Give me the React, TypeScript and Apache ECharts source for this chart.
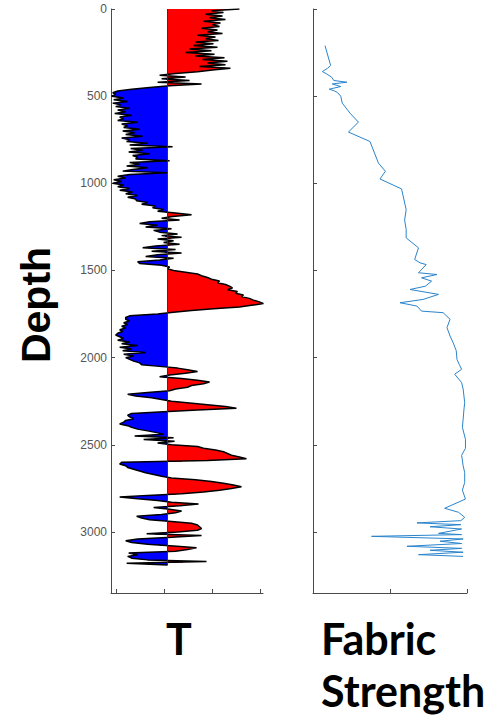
import React, { useEffect, useRef } from "react";
import * as echarts from "echarts";

// Depth categories for the T track (0 .. 3350, step 10)
const DEPTH_CATEGORIES: string[] = Array.from({ length: 336 }, (_, i) => String(i * 10));

// Y tick labels
const DEPTH_TICKS = [0, 500, 1000, 1500, 2000, 2500, 3000];

// T values, one per 10 depth units from depth 0 to 3190 (arbitrary units, 0 = baseline)
const T_VALUES = [
  72, 44, 56, 38, 55, 42, 58, 36, 53, 45,
  52, 34, 50, 40, 55, 30, 48, 38, 51, 28,
  46, 26, 50, 22, 44, 18, 47, 28, 57, 35,
  60, 40, 58, 32, 63, 45, 30, 8, -8, 18,
  -6, 22, -10, 34, 2, -18, -36, -50, -55, -52,
  -56, -44, -54, -40, -55, -47, -52, -38, -50, -42,
  -53, -36, -48, -44, -50, -30, -46, -40, -44, -28,
  -45, -33, -42, -25, -46, -38, -41, -20, -38, 5,
  -37, -25, -39, -18, -35, -30, -32, 2, -38, -28,
  -41, -20, -35, -45, 0, -38, -50, -42, -54, -46,
  -55, -44, -50, -38, -48, -35, -42, -30, -40, -32,
  -31, -20, -26, -12, -15, -4, -10, 8, 24, 5,
  -6, 12, -18, -28, -10, -22, 4, -14, -8, 10,
  -6, 14, -10, 6, -4, 12, -12, -25, 8, -16,
  14, -10, -22, 6, -8, -30, -28, -6, 2, 0,
  6, 18, 30, 34, 40, 44, 52, 50, 58, 62,
  65, 60, 70, 68, 76, 74, 82, 86, 92, 96,
  84, 72, 46, 24, 6, -10, -38, -42, -42, -38,
  -44, -40, -46, -42, -48, -45, -50, -52, -48, -44,
  -50, -38, -46, -30, -48, -36, -45, -22, -44, -34,
  -42, -38, -34, -28, -26, -8, 10, 20, 30, 18,
  2, -8, 14, 30, 42, 36, 24, 20, 8, 2,
  -20, -40, -32, -16, -6, 4, 22, 40, 58, 69,
  30, -4, -36, -40, -38, -34, -42, -44, -48, -40,
  -36, -30, -20, -11, -4, -33, 6, -24, 7, -10,
  4, 30, 36, 48, 56, 60, 64, 72, 79, 40,
  -46, -48, -42, -40, -34, -28, -22, -14, -6, 4,
  28, 44, 56, 66, 74, 64, 52, 36, 14, -20,
  -48, -30, -10, 4, 31, 12, -14, 2, 14, 8,
  -6, -31, -26, -18, 4, 24, 30, 32, 34, 30,
  10, -21, 34, 4, -30, -42, -36, -20, 6, 29,
  20, 8, -39, -30, -40, -36, -20, 39, -41, 0,
];

// Fabric strength trace
const FABRIC_DEPTH = [
  210, 324, 340, 359, 372, 391, 410, 420, 430, 445, 460, 470, 480, 500, 540,
  597, 649, 706, 760, 884, 931, 975, 1032, 1151, 1210, 1265, 1313, 1370, 1437,
  1456, 1466, 1513, 1523, 1542, 1561, 1590, 1609, 1637, 1666, 1685, 1704, 1733,
  1742, 1780, 1828, 1876, 1914, 1960, 2010, 2040, 2067, 2095, 2143, 2180, 2258,
  2300, 2353, 2400, 2468, 2520, 2560, 2620, 2660, 2716, 2760, 2811, 2864, 2887,
  2916, 2935, 2948, 2958, 2970, 2983, 3008, 3015, 3025, 3040, 3053, 3066, 3082,
  3094, 3105, 3116, 3130, 3140,
];
const FABRIC_STRENGTH = [
  0.156, 0.229, 0.19, 0.121, 0.177, 0.242, 0.27, 0.44, 0.25, 0.36, 0.21, 0.28, 0.32, 0.36, 0.38,
  0.48, 0.59, 0.46, 0.74, 0.85, 0.94, 0.87, 1.15, 1.21, 1.19, 1.21, 1.21, 1.37, 1.32,
  1.39, 1.47, 1.37, 1.61, 1.41, 1.54, 1.46, 1.26, 1.63, 1.43, 1.13, 1.35, 1.41,
  1.69, 1.78, 1.74, 1.78, 1.82, 1.86, 1.87, 1.9, 1.93, 1.84, 1.93, 1.95, 1.97,
  1.96, 1.95, 1.94, 1.98, 1.98, 1.93, 1.95, 1.97, 1.97, 1.94, 1.98, 1.71, 1.89,
  1.97, 1.92, 1.35, 1.92, 1.52, 1.93, 1.63, 1.93, 0.76, 1.95, 1.65, 1.93, 1.22,
  1.93, 1.52, 1.95, 1.37, 1.95,
];

// Tick positions for the T axis (no labels)
const T_TICKS = [-51.7, -3.7, 44.3, 92.6];

export default function App() {
  const ref = useRef<HTMLDivElement>(null);

  useEffect(() => {
    if (!ref.current) return;
    const chart = echarts.init(ref.current, null, { renderer: "svg" });

    const tData = T_VALUES.map((v, i) => [v, DEPTH_CATEGORIES[i]]);
    const fData = FABRIC_DEPTH.map((d, i) => [FABRIC_STRENGTH[i], d]);
    const axisColor = "#4a4a4a";

    const option: any = {
      animation: false,
      backgroundColor: "#ffffff",
      grid: [
        { left: 111, top: 9, width: 152, height: 584 },
        { left: 313, top: 9, width: 154, height: 584 },
      ],
      xAxis: [
        {
          type: "value",
          gridIndex: 0,
          min: -56.7,
          max: 95.6,
          position: "bottom",
          axisLine: { show: true, onZero: false, lineStyle: { color: axisColor, width: 1 } },
          axisTick: { show: true, inside: true, length: 4, customValues: T_TICKS, lineStyle: { color: axisColor } },
          axisLabel: { show: false },
          splitLine: { show: false },
        },
        {
          type: "value",
          gridIndex: 1,
          min: 0,
          max: 2,
          interval: 1,
          position: "bottom",
          axisLine: { show: true, onZero: false, lineStyle: { color: axisColor, width: 1 } },
          axisTick: { show: true, inside: true, length: 4, lineStyle: { color: axisColor } },
          axisLabel: { show: false },
          splitLine: { show: false },
        },
      ],
      yAxis: [
        {
          type: "category",
          gridIndex: 0,
          data: DEPTH_CATEGORIES,
          inverse: true,
          boundaryGap: false,
          axisLine: { show: true, onZero: false, lineStyle: { color: axisColor, width: 1 } },
          axisTick: {
            show: true,
            inside: true,
            length: 4,
            interval: (_i: number, v: string) => DEPTH_TICKS.includes(Number(v)),
            lineStyle: { color: axisColor },
          },
          axisLabel: {
            show: true,
            interval: (_i: number, v: string) => DEPTH_TICKS.includes(Number(v)),
            color: "#555555",
            fontSize: 12,
            fontFamily: "Liberation Sans, Arial, sans-serif",
            margin: 4,
          },
          splitLine: { show: false },
        },
        {
          type: "value",
          gridIndex: 1,
          min: 0,
          max: 3350,
          interval: 500,
          inverse: true,
          axisLine: { show: true, onZero: false, lineStyle: { color: axisColor, width: 1 } },
          axisTick: { show: true, inside: true, length: 4, lineStyle: { color: axisColor } },
          axisLabel: { show: false },
          splitLine: { show: false },
        },
      ],
      visualMap: {
        type: "piecewise",
        show: false,
        seriesIndex: 0,
        dimension: 0,
        pieces: [
          { gte: -1000, lt: 0, color: "#0000ff" },
          { gte: 0, lte: 1000, color: "#ff0000" },
        ],
      },
      series: [
        {
          type: "line",
          xAxisIndex: 0,
          yAxisIndex: 0,
          data: tData,
          showSymbol: false,
          symbol: "none",
          lineStyle: { width: 0, opacity: 0 },
          areaStyle: { opacity: 1 },
          silent: true,
          z: 2,
        },
        {
          type: "line",
          xAxisIndex: 0,
          yAxisIndex: 0,
          data: tData,
          showSymbol: false,
          symbol: "none",
          lineStyle: { width: 1.5, color: "#000000" },
          itemStyle: { color: "#000000" },
          silent: true,
          z: 3,
          markLine: {
            symbol: "none",
            silent: true,
            animation: false,
            label: { show: false },
            lineStyle: { color: "#333333", width: 1, type: "solid" },
            data: [[{ coord: [0, "0"] }, { coord: [0, "3190"] }]],
          },
        },
        {
          type: "line",
          xAxisIndex: 1,
          yAxisIndex: 1,
          data: fData,
          showSymbol: false,
          symbol: "none",
          lineStyle: { width: 1, color: "#2a84cc" },
          itemStyle: { color: "#2a84cc" },
          silent: true,
        },
      ],
      graphic: [
        {
          type: "text",
          x: 36,
          y: 305,
          rotation: Math.PI / 2,
          style: {
            text: "Depth",
            fill: "#000000",
            font: 'bold 41px "Liberation Sans", Arial, sans-serif',
            align: "center",
            verticalAlign: "middle",
          },
        },
        {
          type: "text",
          x: 179,
          y: 638,
          style: {
            text: "T",
            fill: "#000000",
            font: 'bold 43px Lato, sans-serif',
            align: "center",
            verticalAlign: "middle",
          },
        },
        {
          type: "text",
          x: 321,
          y: 638,
          style: {
            text: "Fabric",
            fill: "#000000",
            font: 'bold 43px Lato, sans-serif',
            align: "left",
            verticalAlign: "middle",
          },
        },
        {
          type: "text",
          x: 321,
          y: 690,
          style: {
            text: "Strength",
            fill: "#000000",
            font: 'bold 43px Lato, sans-serif',
            align: "left",
            verticalAlign: "middle",
          },
        },
      ],
    };

    chart.setOption(option);
    return () => chart.dispose();
  }, []);

  return (
    <div
      ref={ref}
      style={{ position: "fixed", left: 0, top: 0, width: 492, height: 718, background: "#fff" }}
    />
  );
}
